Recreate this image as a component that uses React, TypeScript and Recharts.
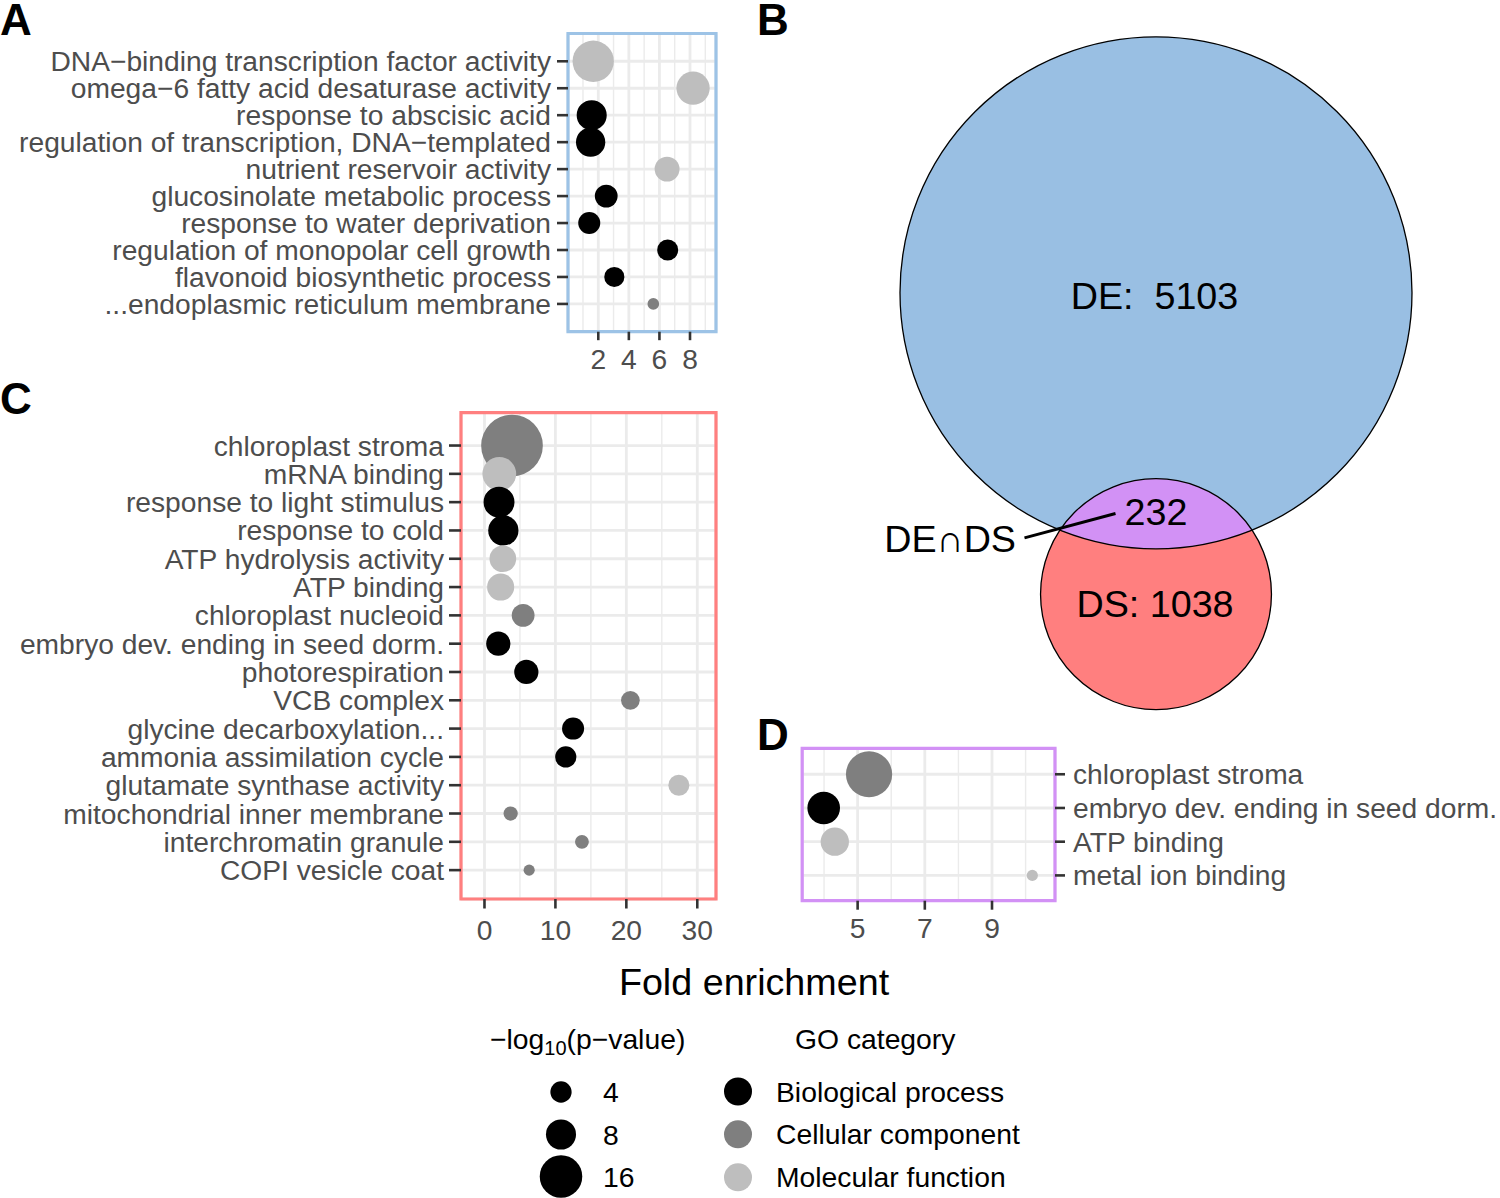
import React from 'react';
import { ScatterChart, Scatter, XAxis, YAxis, ZAxis, CartesianGrid, ReferenceArea, Cell } from 'recharts';

const FONT = '"Liberation Sans", Arial, Helvetica, sans-serif';
const CAT_COLORS: Record<string, string> = { BP: '#000000', CC: '#7F7F7F', MF: '#BEBEBE' };
const CAT_NAMES = ['Biological process', 'Cellular component', 'Molecular function'];
const CAT_KEYS = ['BP', 'CC', 'MF'];
const SIZE_BREAKS = [4, 8, 16];

// ---------- Panel A ----------
const aTerms = [
  'DNA\u2212binding transcription factor activity',
  'omega\u22126 fatty acid desaturase activity',
  'response to abscisic acid',
  'regulation of transcription, DNA\u2212templated',
  'nutrient reservoir activity',
  'glucosinolate metabolic process',
  'response to water deprivation',
  'regulation of monopolar cell growth',
  'flavonoid biosynthetic process',
  '...endoplasmic reticulum membrane',
];
const aCats = ['MF', 'MF', 'BP', 'BP', 'MF', 'BP', 'BP', 'BP', 'BP', 'CC'];
const aFold = [1.67, 8.2, 1.57, 1.5, 6.5, 2.52, 1.41, 6.54, 3.05, 5.6];
const aLogP = [15.1, 9.8, 8.0, 7.6, 5.5, 4.6, 4.3, 3.9, 3.6, 1.2];
const aTicks = [2, 4, 6, 8];
const aMinor = [1, 3, 5, 7, 9];

// ---------- Panel C ----------
const cTerms = [
  'chloroplast stroma',
  'mRNA binding',
  'response to light stimulus',
  'response to cold',
  'ATP hydrolysis activity',
  'ATP binding',
  'chloroplast nucleoid',
  'embryo dev. ending in seed dorm.',
  'photorespiration',
  'VCB complex',
  'glycine decarboxylation...',
  'ammonia assimilation cycle',
  'glutamate synthase activity',
  'mitochondrial inner membrane',
  'interchromatin granule',
  'COPI vesicle coat',
];
const cCats = ['CC', 'MF', 'BP', 'BP', 'MF', 'MF', 'CC', 'BP', 'BP', 'CC', 'BP', 'BP', 'MF', 'CC', 'CC', 'CC'];
const cFold = [3.88, 2.09, 2.05, 2.66, 2.59, 2.28, 5.45, 1.95, 5.9, 20.57, 12.49, 11.46, 27.4, 3.69, 13.74, 6.3];
const cLogP = [33.7, 10.1, 8.5, 8.1, 6.3, 6.5, 4.6, 5.2, 5.2, 3.1, 4.3, 4.0, 3.9, 1.8, 1.7, 1.1];
const cTicks = [0, 10, 20, 30];
const cMinor = [5, 15, 25];

// ---------- Panel D ----------
const dTerms = ['chloroplast stroma', 'embryo dev. ending in seed dorm.', 'ATP binding', 'metal ion binding'];
const dCats = ['CC', 'BP', 'MF', 'MF'];
const dFold = [5.34, 3.99, 4.32, 10.2];
const dLogP = [18.9, 9.4, 7.1, 1.1];
const dTicks = [5, 7, 9];
const dMinor = [4, 6, 8, 10];

// ---------- Panel B (Venn) ----------
const vennSets = ['DE', 'DS'];
const vennCounts = [5103, 1038];
const vennOverlap = 232;

// size scale: area proportional to -log10(p)
const Z_DOMAIN: [number, number] = [0, 40];
const AREA_PER_UNIT = 88.75;
const Z_RANGE: [number, number] = [0, Z_DOMAIN[1] * AREA_PER_UNIT];
const radiusFor = (v: number) => Math.sqrt((v * AREA_PER_UNIT) / Math.PI);

const TICK_FS = 28.2;
const TITLE_FS = 37.7;
const LEGEND_FS = 28.3;

// Venn layout
const DE_RADIUS_PX = 256;
const PX_PER_COUNT = (Math.PI * DE_RADIUS_PX * DE_RADIUS_PX) / vennCounts[0];
const vr1 = Math.sqrt((vennCounts[0] * PX_PER_COUNT) / Math.PI);
const vr2 = Math.sqrt((vennCounts[1] * PX_PER_COUNT) / Math.PI);
function lensArea(d: number, r1: number, r2: number) {
  if (d >= r1 + r2) return 0;
  if (d <= Math.abs(r1 - r2)) return Math.PI * Math.min(r1, r2) ** 2;
  const a1 = Math.acos((d * d + r1 * r1 - r2 * r2) / (2 * d * r1));
  const a2 = Math.acos((d * d + r2 * r2 - r1 * r1) / (2 * d * r2));
  const k = Math.sqrt((-d + r1 + r2) * (d + r1 - r2) * (d - r1 + r2) * (d + r1 + r2));
  return r1 * r1 * a1 + r2 * r2 * a2 - 0.5 * k;
}
const vennDist = (() => {
  const target = vennOverlap * PX_PER_COUNT;
  let lo = Math.abs(vr1 - vr2);
  let hi = vr1 + vr2;
  for (let i = 0; i < 80; i++) {
    const mid = (lo + hi) / 2;
    if (lensArea(mid, vr1, vr2) > target) lo = mid;
    else hi = mid;
  }
  return (lo + hi) / 2;
})();

const VENN_BLUE = '#99BFE3';
const VENN_RED = '#FF7F7F';
const VENN_PURPLE = '#D291F5';

type PanelProps = {
  terms: string[];
  cats: string[];
  fold: number[];
  logp: number[];
  width: number;
  height: number;
  margin: { top: number; right: number; bottom: number; left: number };
  yAxisWidth: number;
  yOrientation: 'left' | 'right';
  xAxisHeight: number;
  xDomain: [number, number];
  xTicks: number[];
  xMinor: number[];
  yDomain: [number, number];
  border: string;
  yTickSize: number;
  yTickMargin: number;
  xTickSize: number;
  xTickMargin: number;
};

function DotPanel(p: PanelProps) {
  const data = p.terms.map((t, i) => ({ term: t, row: i, fold: p.fold[i], logp: p.logp[i], cat: p.cats[i] }));
  const rows = p.terms.map((_, i) => i);
  const yTick = (tp: any) => (
    <text
      x={tp.x}
      y={tp.y}
      dy="0.355em"
      textAnchor={p.yOrientation === 'left' ? 'end' : 'start'}
      fill="#4D4D4D"
      fontSize={TICK_FS}
      fontFamily={FONT}
    >
      {p.terms[tp.payload.value]}
    </text>
  );
  const xTick = (tp: any) => (
    <text x={tp.x} y={tp.y} dy="0.71em" textAnchor="middle" fill="#4D4D4D" fontSize={TICK_FS} fontFamily={FONT}>
      {tp.payload.value}
    </text>
  );
  return (
    <ScatterChart width={p.width} height={p.height} margin={p.margin}>
      <CartesianGrid stroke="#EBEBEB" strokeWidth={1.4} horizontal={false} verticalValues={p.xMinor} />
      <CartesianGrid stroke="#EBEBEB" strokeWidth={2.8} />
      <XAxis
        type="number"
        dataKey="fold"
        domain={p.xDomain}
        ticks={p.xTicks}
        interval={0}
        height={p.xAxisHeight}
        axisLine={false}
        tickLine={{ stroke: '#333333', strokeWidth: 2.6 }}
        tickSize={p.xTickSize}
        tickMargin={p.xTickMargin}
        tick={xTick}
      />
      <YAxis
        type="number"
        dataKey="row"
        domain={p.yDomain}
        ticks={rows}
        interval={0}
        reversed
        width={p.yAxisWidth}
        orientation={p.yOrientation}
        axisLine={false}
        tickLine={{ stroke: '#333333', strokeWidth: 2.6 }}
        tickSize={p.yTickSize}
        tickMargin={p.yTickMargin}
        tick={yTick}
      />
      <ZAxis type="number" dataKey="logp" domain={Z_DOMAIN} range={Z_RANGE} />
      <Scatter data={data} isAnimationActive={false}>
        {data.map((d, i) => (
          <Cell key={i} fill={CAT_COLORS[d.cat]} />
        ))}
      </Scatter>
      <ReferenceArea
        x1={p.xDomain[0]}
        x2={p.xDomain[1]}
        y1={p.yDomain[0]}
        y2={p.yDomain[1]}
        fill="none"
        fillOpacity={0}
        stroke={p.border}
        strokeWidth={3.2}
        strokeOpacity={1}
        ifOverflow="visible"
      />
    </ScatterChart>
  );
}

function VennFill(props: any) {
  const { cx, cy, payload } = props;
  const r = props.size != null ? Math.sqrt(props.size / Math.PI) : props.width / 2;
  if (payload.set === 'DE') {
    return (
      <g>
        <defs>
          <clipPath id="venn-de-clip">
            <circle cx={cx} cy={cy} r={r} />
          </clipPath>
        </defs>
        <circle cx={cx} cy={cy} r={r} fill={VENN_BLUE} />
      </g>
    );
  }
  return (
    <g>
      <circle cx={cx} cy={cy} r={r} fill={VENN_RED} />
      <circle cx={cx} cy={cy} r={r} fill={VENN_PURPLE} clipPath="url(#venn-de-clip)" />
    </g>
  );
}

function VennOutline(props: any) {
  const { cx, cy, payload } = props;
  const r = props.size != null ? Math.sqrt(props.size / Math.PI) : props.width / 2;
  const txt = { fontFamily: FONT, fontSize: TITLE_FS, fill: '#000000', style: { whiteSpace: 'pre' as const } };
  if (payload.set === 'DE') {
    return (
      <g>
        <circle cx={cx} cy={cy} r={r} fill="none" stroke="#000" strokeWidth={1.3} />
        <text x={cx - 1.5} y={cy + 16.5} textAnchor="middle" {...txt}>
          {`DE:  ${payload.count}`}
        </text>
      </g>
    );
  }
  const deBottom = cy - vennDist + vr1;
  const lensMid = (cy - r + deBottom) / 2;
  return (
    <g>
      <circle cx={cx} cy={cy} r={r} fill="none" stroke="#000" strokeWidth={1.3} />
      <text x={cx - 1} y={cy + 23} textAnchor="middle" {...txt}>
        {`DS: ${payload.count}`}
      </text>
      <text x={cx} y={lensMid + 11.5} textAnchor="middle" {...txt}>
        {`${vennOverlap}`}
      </text>
      <line x1={cx - 131.5} y1={cy - 56.3} x2={cx - 40.5} y2={cy - 80.7} stroke="#000" strokeWidth={3} />
      <text x={cx - 140} y={cy - 42.3} textAnchor="end" {...txt}>
        {`${vennSets[0]}\u2229${vennSets[1]}`}
      </text>
    </g>
  );
}

function Venn() {
  const data = vennSets.map((s, i) => ({ set: s, count: vennCounts[i], x: 0, y: i === 0 ? 0 : -vennDist }));
  return (
    <ScatterChart width={740} height={720} margin={{ top: 0, right: 0, bottom: 0, left: 0 }}>
      <XAxis type="number" dataKey="x" domain={[-396, 344]} hide />
      <YAxis type="number" dataKey="y" domain={[-427.2, 292.8]} hide />
      <ZAxis type="number" dataKey="count" domain={[0, vennCounts[0]]} range={[0, Math.PI * DE_RADIUS_PX * DE_RADIUS_PX]} />
      <Scatter data={data} isAnimationActive={false} shape={(pp: any) => <VennFill {...pp} />} />
      <Scatter data={data} isAnimationActive={false} shape={(pp: any) => <VennOutline {...pp} />} />
    </ScatterChart>
  );
}

export default function App() {
  const abs = (left: number, top: number): React.CSSProperties => ({ position: 'absolute', left, top });
  const sizeY = [1092, 1134.5, 1176.5];
  const catY = [1091.5, 1134.3, 1177.3];
  return (
    <div style={{ position: 'absolute', left: 0, top: 0, width: 1500, height: 1198, background: '#fff', overflow: 'hidden', fontFamily: FONT }}>
      <div style={abs(760, 0)}>
        <Venn />
      </div>
      <div style={abs(0, 0)}>
        <DotPanel
          terms={aTerms}
          cats={aCats}
          fold={aFold}
          logp={aLogP}
          width={740}
          height={385}
          margin={{ top: 33.5, right: 24, bottom: 0, left: 0 }}
          yAxisWidth={568}
          yOrientation="left"
          xAxisHeight={53.3}
          xDomain={[0.02, 9.7]}
          xTicks={aTicks}
          xMinor={aMinor}
          yDomain={[-1.03, 10.03]}
          border="#9DC3E6"
          yTickSize={11}
          yTickMargin={6}
          xTickSize={8.5}
          xTickMargin={9}
        />
      </div>
      <div style={abs(0, 380)}>
        <DotPanel
          terms={cTerms}
          cats={cCats}
          fold={cFold}
          logp={cLogP}
          width={740}
          height={600}
          margin={{ top: 32.7, right: 24, bottom: 0, left: 0 }}
          yAxisWidth={461}
          yOrientation="left"
          xAxisHeight={81}
          xDomain={[-3.31, 32.64]}
          xTicks={cTicks}
          xMinor={cMinor}
          yDomain={[-1.16, 16.02]}
          border="#FF7F7F"
          yTickSize={12}
          yTickMargin={5}
          xTickSize={9.5}
          xTickMargin={11}
        />
      </div>
      <div style={abs(760, 700)}>
        <DotPanel
          terms={dTerms}
          cats={dCats}
          fold={dFold}
          logp={dLogP}
          width={740}
          height={260}
          margin={{ top: 48.3, right: 0, bottom: 0, left: 42.2 }}
          yAxisWidth={445}
          yOrientation="right"
          xAxisHeight={59.3}
          xDomain={[3.35, 10.875]}
          xTicks={dTicks}
          xMinor={dMinor}
          yDomain={[-0.77, 3.75]}
          border="#D291F5"
          yTickSize={10}
          yTickMargin={8}
          xTickSize={9}
          xTickMargin={8.3}
        />
      </div>
      <svg width={1500} height={1198} style={{ position: 'absolute', left: 0, top: 0, pointerEvents: 'none' }}>
        <g fontFamily={FONT} fontWeight="bold" fontSize={44} fill="#000">
          <text x={0} y={35}>A</text>
          <text x={757} y={35}>B</text>
          <text x={0} y={414}>C</text>
          <text x={757} y={750}>D</text>
        </g>
        <text x={754} y={995} textAnchor="middle" fontFamily={FONT} fontSize={TITLE_FS} fill="#000">
          Fold enrichment
        </text>
        <g fontFamily={FONT} fontSize={LEGEND_FS} fill="#000">
          <text x={490} y={1049}>
            {'\u2212log'}
            <tspan fontSize={20} dy={6}>10</tspan>
            <tspan fontSize={LEGEND_FS} dy={-6}>{'(p\u2212value)'}</tspan>
          </text>
          {SIZE_BREAKS.map((b, i) => (
            <g key={b}>
              <circle cx={561} cy={sizeY[i]} r={radiusFor(b)} fill="#000" />
              <text x={603} y={sizeY[i] + 10}>{b}</text>
            </g>
          ))}
          <text x={795} y={1049}>GO category</text>
          {CAT_KEYS.map((k, i) => (
            <g key={k}>
              <circle cx={738} cy={catY[i]} r={14} fill={CAT_COLORS[k]} />
              <text x={776} y={catY[i] + 10}>{CAT_NAMES[i]}</text>
            </g>
          ))}
        </g>
      </svg>
    </div>
  );
}
